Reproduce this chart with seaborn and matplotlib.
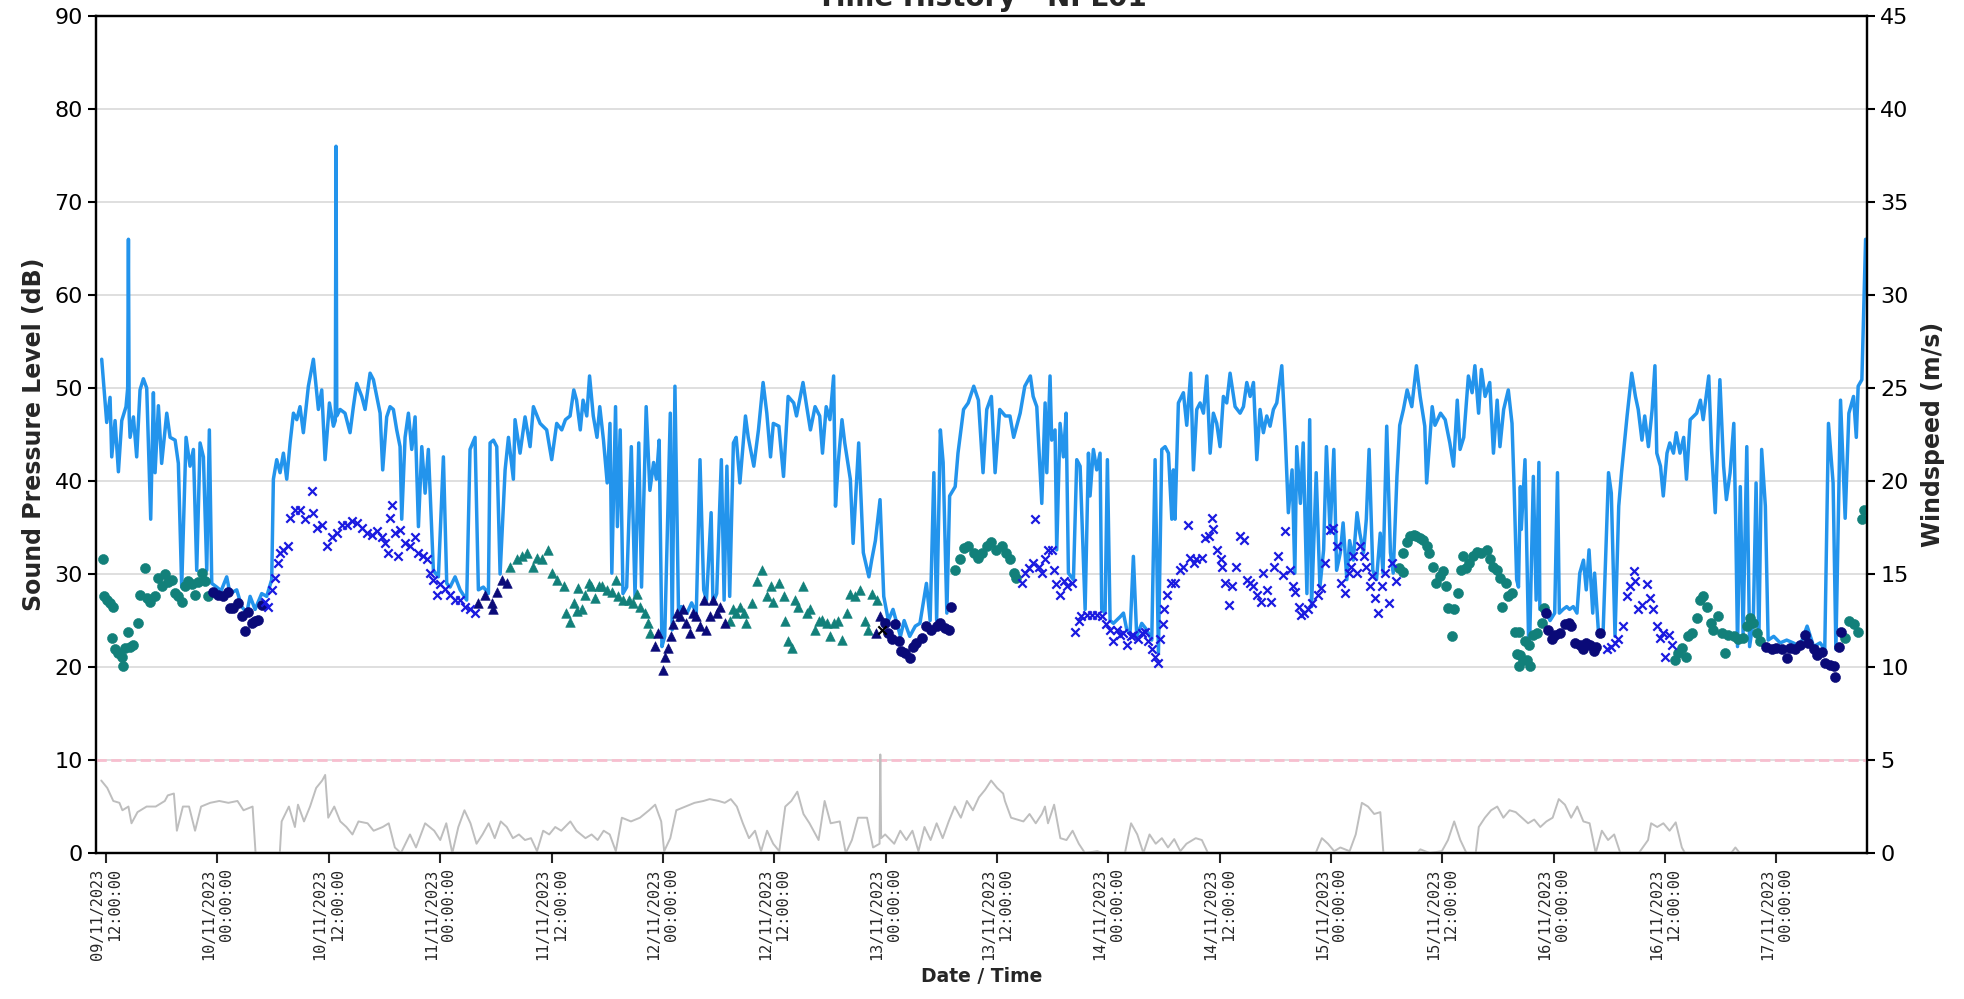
import matplotlib
matplotlib.use("Agg")
import matplotlib.pyplot as plt
import pandas as pd
import seaborn as sns

START = pd.Timestamp("2023-11-09 12:00:00")

# ---------------- data: (hours since 09/11/2023 12:00, value) ----------------
# Sound pressure level time history (dB) - light blue line
laeq_1 = [(-0.47, 53.1), (0.07, 46.3), (0.43, 49.0), (0.61, 42.6), (0.97, 46.5), (1.33, 41.0), (1.69, 46.5),
          (2.15, 48.0), (2.33, 50.0), (2.41, 66.0), (2.49, 47.0), (2.59, 44.7), (2.95, 46.9), (3.30, 42.6),
          (3.66, 49.8), (4.02, 51.0), (4.38, 50.0), (4.81, 35.9), (5.10, 49.5), (5.28, 40.9), (5.64, 48.1),
          (5.99, 41.9), (6.54, 47.3), (6.90, 44.7), (7.44, 44.4), (7.79, 41.9), (8.15, 28.6), (8.62, 44.7),
          (9.05, 41.6), (9.41, 43.4), (9.77, 30.4), (10.13, 44.1), (10.49, 42.6), (10.85, 30.4), (11.13, 45.5),
          (11.39, 29.0), (11.92, 28.6), (12.40, 28.2), (13.00, 29.7), (13.36, 27.9), (14.08, 28.3), (14.62, 26.5),
          (15.16, 25.8), (15.52, 27.6), (16.06, 26.2), (16.77, 27.9), (17.31, 27.6), (17.85, 29.4), (18.03, 40.2),
          (18.39, 42.3), (18.75, 40.9), (19.11, 43.0), (19.47, 40.2), (19.83, 44.1), (20.19, 47.3), (20.55, 46.6),
          (20.90, 48.0), (21.26, 45.2), (21.80, 50.2), (22.34, 53.1), (22.88, 47.7), (23.24, 49.8), (23.60, 42.3)]
laeq_2 = [(24.07, 48.4), (24.50, 45.9), (24.70, 46.5), (24.78, 76.0), (24.86, 47.0), (25.22, 47.7), (25.75, 47.3),
          (26.29, 45.2), (26.65, 48.0), (27.01, 50.5), (27.55, 49.1), (27.91, 47.7), (28.45, 51.6), (28.81, 50.9),
          (29.17, 49.1), (29.53, 47.3), (29.81, 41.2), (30.24, 46.9), (30.60, 48.0), (30.96, 47.7), (31.32, 45.5),
          (31.68, 43.7), (31.86, 35.9), (32.22, 44.7), (32.58, 47.3), (32.94, 43.4), (33.30, 46.9), (33.66, 35.1),
          (34.02, 43.7), (34.38, 38.7), (34.73, 43.4), (35.27, 30.4), (35.81, 29.7), (36.35, 42.6), (36.71, 29.0),
          (37.07, 28.6), (37.61, 29.7), (38.15, 28.3), (38.86, 27.2), (39.22, 43.4), (39.76, 44.7), (40.12, 28.3),
          (40.66, 28.6), (41.20, 27.9), (41.38, 44.1), (41.74, 44.4), (42.10, 43.7), (42.46, 30.0), (43.00, 41.2),
          (43.36, 44.7), (43.89, 40.2), (44.07, 46.6), (44.61, 43.0), (45.15, 46.9), (45.69, 43.7), (46.05, 48.0),
          (46.77, 46.2), (47.48, 45.5), (48.02, 42.3), (48.56, 46.2)]
laeq_3 = [(49.1, 45.5), (49.5, 46.6), (50.0, 47.0), (50.4, 49.8), (50.7, 48.7), (51.1, 45.5), (51.4, 48.7),
          (51.8, 47.0), (52.1, 51.3), (52.5, 47.0), (52.9, 44.7), (53.2, 48.0), (53.6, 44.4), (54.0, 39.8),
          (54.3, 46.2), (54.5, 30.1), (54.9, 48.0), (55.1, 35.1), (55.4, 45.5), (55.7, 27.9), (56.1, 28.6),
          (56.6, 43.7), (57.0, 27.6), (57.4, 44.1), (57.7, 28.6), (58.2, 48.0), (58.6, 39.0), (59.0, 42.0),
          (59.3, 40.2), (59.6, 44.4), (59.9, 22.2), (60.2, 23.3), (60.8, 47.3), (61.0, 24.0), (61.3, 50.2),
          (61.7, 25.0), (62.0, 26.5), (62.6, 25.8), (63.1, 26.9), (63.6, 25.8), (64.0, 42.3), (64.4, 28.3),
          (64.7, 27.2), (65.2, 36.6), (65.4, 26.9), (65.8, 27.9), (66.3, 42.3), (66.6, 27.2), (66.9, 41.6),
          (67.2, 27.6), (67.6, 44.1), (67.9, 44.7), (68.3, 39.8), (68.9, 47.0), (69.2, 44.7), (69.8, 41.6),
          (70.3, 45.5), (70.8, 50.6), (71.2, 47.3), (71.6, 42.6), (71.9, 46.2), (72.5, 45.9), (73.0, 40.5),
          (73.5, 49.1), (74.1, 48.4), (74.4, 47.0), (75.1, 50.6), (75.5, 48.0), (75.9, 45.5), (76.4, 48.0),
          (76.9, 47.0), (77.2, 43.0), (77.6, 48.0), (78.0, 46.6), (78.4, 51.3), (78.6, 37.3), (78.9, 42.0),
          (79.3, 46.6), (79.6, 44.1), (80.2, 40.2), (80.5, 33.3), (81.1, 44.1), (81.6, 32.3), (82.2, 29.7),
          (82.5, 31.5), (82.9, 33.6), (83.4, 38.0), (83.8, 27.6), (84.3, 25.0), (84.8, 26.2), (85.6, 23.3),
          (86.0, 25.0), (86.6, 23.3), (87.2, 24.4), (87.7, 24.7), (88.4, 29.0), (88.8, 25.0), (89.2, 40.9),
          (89.5, 25.0), (89.9, 45.5), (90.2, 42.0), (90.6, 25.8), (90.9, 38.4), (91.5, 39.4), (91.8, 43.0),
          (92.4, 47.7), (92.9, 48.4), (93.5, 50.2), (94.0, 48.7), (94.5, 40.9), (94.9, 47.7), (95.4, 49.1),
          (95.8, 40.9), (96.3, 47.7), (96.9, 47.0), (97.4, 47.0), (97.8, 44.7), (98.5, 47.3), (99.0, 50.2),
          (99.6, 51.3), (99.9, 49.1)]
laeq_4 = [(100.29, 48.0), (100.83, 37.6), (101.19, 48.4), (101.37, 40.9), (101.72, 51.3), (101.90, 44.4),
          (102.26, 45.5), (102.44, 32.6), (102.80, 46.2), (103.16, 42.6), (103.45, 47.3), (103.70, 30.1),
          (104.24, 29.4), (104.60, 42.3), (104.96, 41.6), (105.50, 26.2), (105.86, 43.0), (106.03, 38.4),
          (106.39, 43.4), (106.75, 41.2), (107.11, 43.0), (107.29, 26.2), (107.65, 25.8), (107.90, 42.3),
          (108.19, 25.0), (108.55, 24.7), (109.27, 25.4), (109.63, 25.8), (109.99, 24.0), (110.34, 23.6),
          (110.70, 31.9), (111.06, 23.3), (111.60, 24.7), (112.14, 24.0), (112.68, 22.9), (113.04, 42.3),
          (113.40, 21.5), (113.76, 43.4), (114.12, 43.7), (114.48, 43.0), (114.84, 35.9), (115.01, 41.2),
          (115.19, 35.9), (115.55, 48.4), (116.09, 49.5), (116.45, 46.0), (116.88, 51.6), (117.17, 41.2),
          (117.53, 47.7), (117.89, 48.4), (118.25, 47.3), (118.61, 51.3), (118.97, 43.0), (119.32, 47.3),
          (119.68, 46.2), (120.04, 43.7), (120.40, 49.1), (120.76, 48.4), (121.12, 51.6), (121.66, 48.0),
          (122.20, 47.3), (122.56, 48.0), (122.92, 50.6), (123.28, 49.1), (123.64, 50.6), (124.00, 42.3),
          (124.35, 47.7), (124.71, 45.2), (125.07, 47.0), (125.43, 45.9), (125.79, 47.7), (126.15, 48.4),
          (126.69, 52.4), (127.05, 45.2), (127.4, 36.6), (127.8, 41.2), (128.1, 30.1), (128.3, 43.7),
          (128.7, 37.6), (129.0, 44.1), (129.4, 27.9), (129.7, 46.6), (129.9, 26.5), (130.4, 40.9),
          (130.8, 28.6), (131.2, 32.6), (131.5, 43.7), (131.9, 34.4), (132.3, 43.4), (132.6, 30.4),
          (133.0, 32.3), (133.3, 35.5), (133.7, 29.4), (134.0, 33.6), (134.4, 31.5), (134.8, 36.6),
          (135.1, 34.4), (135.5, 32.3), (135.8, 35.9), (136.1, 43.4), (136.5, 30.4), (136.9, 29.4),
          (137.3, 34.4), (137.6, 30.1), (138.0, 45.9), (138.4, 32.3), (138.7, 30.1), (139.1, 40.5),
          (139.4, 46.0), (139.8, 47.7), (140.2, 49.8), (140.7, 48.0), (141.2, 52.4), (141.6, 49.1),
          (142.1, 45.9), (142.3, 39.8), (142.9, 48.0), (143.2, 46.0), (143.8, 47.3), (144.3, 46.6),
          (144.8, 44.1), (145.2, 41.6), (145.6, 48.7), (145.9, 43.4), (146.3, 44.7), (146.8, 51.3),
          (147.2, 49.5), (147.5, 52.4), (147.9, 47.3), (148.2, 52.0), (148.6, 49.1), (149.1, 50.6),
          (149.5, 43.0), (149.9, 48.7), (150.2, 43.7), (150.6, 47.7), (151.1, 49.8), (151.5, 46.2),
          (151.7, 40.2), (152.0, 29.4)]
laeq_5 = [(152.2, 28.6), (152.4, 39.4), (152.5, 34.8), (152.9, 42.3), (153.3, 22.2), (153.4, 22.6), (153.8, 40.5),
          (154.1, 27.2), (154.4, 42.0), (154.5, 26.2), (154.9, 26.5), (155.6, 25.0), (156.1, 25.8), (156.4, 40.9),
          (156.6, 25.8), (157.0, 26.2), (157.4, 26.5), (157.7, 26.2), (158.1, 26.5), (158.5, 25.8), (158.8, 30.1),
          (159.2, 31.5), (159.5, 28.3), (159.8, 32.6), (160.2, 25.8), (160.4, 30.1), (160.8, 24.0), (161.3, 23.3),
          (161.9, 40.9), (162.2, 38.7), (162.6, 23.3), (163.0, 37.3), (163.3, 40.9), (163.9, 47.0), (164.4, 51.6),
          (164.8, 49.1), (165.1, 47.7), (165.5, 44.4), (165.8, 47.0), (166.2, 43.7), (166.6, 47.7), (166.9, 52.4),
          (167.1, 43.0), (167.5, 41.6), (167.8, 38.4), (168.2, 43.0), (168.5, 44.1), (168.9, 43.0), (169.2, 45.2),
          (169.6, 43.0), (170.0, 44.7), (170.3, 40.2), (170.7, 46.6), (171.4, 47.3), (171.8, 48.7), (172.1, 46.6),
          (172.7, 51.3), (173.0, 43.4), (173.4, 36.6), (173.9, 50.9), (174.3, 41.6), (174.6, 38.0), (175.0, 40.9),
          (175.4, 46.2), (175.6, 35.9), (175.8, 22.2), (176.1, 39.4), (176.4, 23.6), (176.8, 43.7), (177.1, 22.2),
          (177.5, 25.0), (177.8, 39.8), (178.1, 22.9), (178.4, 43.4), (178.8, 37.3), (179.1, 22.9), (179.7, 23.3),
          (180.4, 22.6), (181.1, 22.9), (181.8, 22.6), (182.5, 22.2), (183.3, 24.4), (184.0, 22.2), (184.7, 22.6),
          (185.2, 21.9), (185.6, 46.2), (186.1, 39.8), (186.4, 21.9), (186.9, 48.7), (187.4, 36.0), (187.8, 47.3),
          (188.3, 49.1), (188.6, 44.7), (188.8, 50.2), (189.2, 50.9), (189.6, 66.0)]

# Windspeed (m/s) - grey line on right axis
wind_1 = [(-0.52, 3.9), (0.13, 3.5), (0.78, 2.8), (1.44, 2.7), (1.76, 2.3), (2.41, 2.5), (2.74, 1.6), (3.39, 2.2),
          (4.37, 2.5), (5.35, 2.5), (6.33, 2.8), (6.65, 3.1), (7.31, 3.2), (7.63, 1.2), (8.28, 2.5), (8.94, 2.5),
          (9.59, 1.2), (10.24, 2.5), (11.22, 2.7), (12.20, 2.8), (13.18, 2.7), (14.16, 2.8), (14.81, 2.3),
          (15.79, 2.5), (16.11, 0.0), (18.72, 0.0), (18.92, 1.7), (19.70, 2.5), (20.35, 1.4), (20.68, 2.6),
          (21.33, 1.7), (21.98, 2.5), (22.64, 3.5), (23.29, 3.9), (23.61, 4.2), (23.94, 1.9)]
wind_2 = [(24.59, 2.5), (25.24, 1.7), (25.90, 1.4), (26.55, 1.0), (27.20, 1.7), (28.18, 1.6), (28.83, 1.2),
          (29.81, 1.4), (30.46, 1.6), (31.12, 0.3), (31.77, 0.0), (32.75, 1.0), (33.40, 0.3), (34.38, 1.6),
          (35.36, 1.2), (36.01, 0.7), (36.66, 1.6), (37.31, 0.0), (37.96, 1.4), (38.62, 2.3), (39.27, 1.6),
          (39.92, 0.5), (40.57, 1.0), (41.23, 1.6), (41.88, 0.8), (42.53, 1.7), (43.18, 1.4), (43.84, 0.8),
          (44.49, 1.0), (45.14, 0.7), (45.79, 0.8), (46.44, 0.1), (47.10, 1.2), (47.75, 1.0)]
wind_3 = [(48.40, 1.4), (49.05, 1.2), (50.03, 1.7), (50.68, 1.2), (51.66, 0.8), (52.32, 1.0), (52.97, 0.7),
          (53.62, 1.2), (54.27, 1.0), (54.93, 0.1), (55.58, 1.9), (56.56, 1.7), (57.53, 1.9), (58.51, 2.3),
          (59.17, 2.6), (59.82, 1.7), (60.14, 0.1), (60.80, 0.8), (61.45, 2.3), (62.43, 2.5), (63.41, 2.7),
          (64.38, 2.8), (65.04, 2.9), (66.01, 2.8), (66.67, 2.7), (67.32, 2.9), (67.97, 2.5), (68.62, 1.6),
          (69.28, 0.8), (69.93, 1.2), (70.58, 0.1), (71.23, 1.2), (71.89, 0.5), (72.54, 0.1), (73.19, 2.5),
          (73.84, 2.8), (74.49, 3.3), (75.15, 2.1), (75.80, 1.6), (76.78, 0.7), (77.43, 2.8), (78.08, 1.6),
          (79.06, 1.7), (79.71, 0.0), (80.37, 0.7), (81.02, 1.9), (82.00, 1.9), (82.65, 0.3), (83.35, 0.5),
          (83.43, 5.3), (83.52, 0.8), (83.95, 1.0), (84.93, 0.5), (85.58, 1.2), (86.24, 0.7), (86.89, 1.2),
          (87.54, 0.1), (88.19, 1.4), (88.85, 0.7), (89.50, 1.6), (90.15, 0.8), (90.80, 1.7), (91.45, 2.5),
          (92.11, 1.9), (92.76, 2.8), (93.41, 2.3), (94.06, 3.0), (94.72, 3.4), (95.37, 3.9), (96.02, 3.5)]
wind_4 = [(96.67, 3.2), (96.86, 2.8), (97.52, 1.9), (98.19, 1.8), (98.85, 1.7), (99.51, 2.1), (100.18, 1.6),
          (100.84, 2.1), (101.17, 2.5), (101.50, 1.6), (102.16, 2.6), (102.83, 0.8), (103.49, 0.7), (104.15, 1.2),
          (104.82, 0.5), (105.48, 0.0), (106.81, 0.1), (107.47, 0.0), (109.79, 0.0), (110.45, 1.6), (111.12, 1.0),
          (111.78, 0.0), (112.44, 1.0), (113.11, 0.5), (113.77, 0.8), (114.43, 0.3), (115.10, 0.75), (115.76, 0.1),
          (116.42, 0.5), (117.42, 0.8), (118.08, 0.7), (118.74, 0.0), (130.35, 0.0), (131.01, 0.8), (131.67, 0.5),
          (132.34, 0.1), (133.00, 0.3), (134.00, 0.1), (134.66, 1.0), (135.32, 2.7), (135.98, 2.5), (136.65, 2.1),
          (137.31, 2.2), (137.64, 0.0), (141.29, 0.0), (141.62, 0.2), (142.62, 0.0), (143.94, 0.1), (144.60, 0.7),
          (145.27, 1.7), (145.93, 0.7), (146.59, 0.0), (147.59, 0.0), (147.92, 1.4), (148.58, 1.9), (149.25, 2.3),
          (149.91, 2.5), (150.57, 1.9), (151.24, 2.3), (151.90, 2.2), (152.56, 1.9), (153.23, 1.6), (153.89, 1.8),
          (154.55, 1.4), (155.21, 1.7), (155.88, 1.9), (156.54, 2.9), (157.20, 2.6), (157.87, 1.9), (158.53, 2.5),
          (159.19, 1.7), (159.86, 1.6), (160.52, 0.0), (161.18, 1.2), (161.85, 0.7), (162.51, 1.0), (163.17, 0.0),
          (165.16, 0.0), (166.16, 0.7), (166.49, 1.6), (167.15, 1.4), (167.81, 1.6), (168.48, 1.2), (169.14, 1.65),
          (169.80, 0.3), (170.14, 0.0), (175.11, 0.0), (175.57, 0.3), (176.04, 0.0), (189.70, 0.0)]

# Background level points by category
teal_circle_1 = [(-0.36, 31.6), (-0.18, 27.6), (0.07, 27.2), (0.43, 26.9), (0.61, 23.1), (0.79, 26.5), (0.97, 21.9),
                 (1.33, 21.5), (1.69, 21.1), (1.87, 20.1), (2.05, 22.0), (2.41, 23.8), (2.59, 22.2), (2.95, 22.4),
                 (3.48, 24.7), (3.66, 27.8), (4.20, 30.6), (4.38, 27.4), (4.74, 27.0), (5.28, 27.6), (5.64, 29.6),
                 (6.00, 28.7), (6.36, 30.0), (6.72, 29.1), (7.08, 29.4), (7.44, 28.0), (7.79, 27.6), (8.15, 27.0),
                 (8.51, 28.7), (8.87, 29.2), (9.23, 28.9), (9.59, 27.8), (9.95, 29.1), (10.31, 30.1), (10.67, 29.2),
                 (11.03, 27.6)]
teal_circle_2 = [(91.5, 30.4), (92.0, 31.6), (92.4, 32.8), (92.9, 33.0), (93.5, 32.3), (94.0, 31.7), (94.4, 32.3),
                 (94.9, 33.0), (95.4, 33.4), (95.9, 32.6), (96.5, 33.0), (97.0, 32.3), (97.4, 31.6), (97.8, 30.1),
                 (98.1, 29.6)]
teal_circle_3 = [(139.3, 30.6), (139.7, 30.2), (139.8, 32.3), (140.2, 33.5), (140.5, 34.1), (140.9, 34.2),
                 (141.2, 34.1), (141.6, 33.9), (141.9, 33.7), (142.3, 33.0), (142.6, 32.3), (143.0, 30.8),
                 (143.3, 29.0), (143.7, 29.8), (144.1, 30.3), (144.4, 28.7), (144.6, 26.4), (145.0, 23.3),
                 (145.3, 26.2), (145.7, 28.0), (146.0, 30.4), (146.2, 31.9), (146.5, 30.6), (146.9, 31.2),
                 (147.3, 31.9), (147.7, 32.4), (148.2, 32.3), (148.8, 32.6), (149.1, 31.6), (149.5, 30.8),
                 (149.9, 30.4), (150.2, 29.6), (150.4, 26.5), (150.8, 29.0), (151.1, 27.6), (151.5, 28.0),
                 (151.8, 23.8), (152.0, 21.4), (152.2, 20.1), (152.3, 23.8), (152.4, 21.3), (152.7, 20.8),
                 (152.9, 22.8), (153.1, 20.8), (153.3, 22.4), (153.4, 20.1), (153.8, 23.5), (154.2, 23.7),
                 (154.7, 24.7), (154.9, 26.3)]
teal_circle_4 = [(169.1, 20.8), (169.4, 21.5), (169.8, 22.0), (170.2, 21.1), (170.5, 23.3), (170.9, 23.7),
                 (171.4, 25.3), (171.8, 27.2), (172.1, 27.6), (172.5, 26.5), (172.9, 24.7), (173.2, 24.0),
                 (173.7, 25.5), (174.1, 23.7), (174.5, 21.5), (174.8, 23.5), (175.4, 23.3), (175.9, 23.0),
                 (176.4, 23.1), (176.8, 24.4), (177.1, 25.3), (177.5, 24.7), (177.9, 23.7), (178.2, 22.8)]
teal_circle_5 = [(187.4, 23.1), (187.8, 24.9), (188.3, 24.6), (188.8, 23.8), (189.2, 35.9), (189.4, 36.9)]

navy_circle_1 = [(11.57, 28.1), (12.10, 27.8), (12.64, 27.6), (13.18, 28.1), (13.36, 26.4), (13.72, 26.4),
                 (14.26, 26.9), (14.62, 25.5), (14.98, 23.9), (15.34, 25.9), (15.70, 24.7), (16.06, 24.9),
                 (16.41, 25.1), (16.77, 26.7)]
navy_circle_2 = [(83.9, 24.7), (84.3, 23.7), (84.7, 23.0), (85.0, 24.6), (85.4, 22.8), (85.7, 21.7), (86.1, 21.5),
                 (86.6, 21.0), (87.0, 22.2), (87.3, 22.6), (87.9, 23.1), (88.4, 24.4), (88.9, 24.0), (89.5, 24.4),
                 (89.9, 24.7), (90.4, 24.2), (90.8, 24.0), (91.1, 26.5)]
navy_circle_3 = [(155.2, 25.8), (155.4, 24.0), (155.8, 23.0), (156.1, 23.5), (156.7, 23.7), (157.2, 24.6),
                 (157.6, 24.7), (157.9, 24.4), (158.3, 22.6), (158.8, 22.4), (159.2, 21.9), (159.5, 22.6),
                 (159.9, 22.4), (160.3, 21.7), (160.6, 22.2), (161.0, 23.7)]
navy_circle_4 = [(178.9, 22.2), (179.5, 21.9), (180.0, 22.0), (180.6, 21.9), (181.1, 21.0), (181.5, 22.0),
                 (182.0, 21.9), (182.5, 22.4), (183.1, 23.5), (183.4, 22.6), (184.0, 21.9), (184.4, 21.3),
                 (184.9, 21.6), (185.2, 20.4), (185.8, 20.2), (186.2, 20.1), (186.3, 18.9), (186.7, 22.2),
                 (187.0, 23.8)]

blue_x_1 = [(17.13, 27.0), (17.49, 26.5), (17.85, 28.3), (18.21, 29.6), (18.57, 31.2), (18.75, 32.3), (19.11, 32.6),
            (19.65, 33.0), (19.83, 36.0), (20.37, 36.9), (20.90, 36.9), (21.44, 35.9), (22.16, 38.9), (22.34, 36.6),
            (22.70, 35.0), (23.24, 35.3), (23.78, 33.0), (24.32, 34.0), (24.86, 34.4), (25.40, 35.3), (25.93, 35.3),
            (26.47, 35.7), (27.01, 35.5), (27.55, 35.0), (28.09, 34.4), (28.63, 34.2), (29.17, 34.6), (29.71, 34.0),
            (30.06, 33.3), (30.42, 32.3), (30.60, 36.0), (30.78, 37.4), (31.14, 34.4), (31.50, 31.9), (31.68, 34.7),
            (32.22, 33.3), (32.76, 33.0), (33.30, 34.0), (33.66, 32.3), (34.19, 31.9), (34.55, 31.6), (34.91, 30.1),
            (35.27, 29.4), (35.63, 27.8), (35.99, 28.9), (36.53, 28.4), (37.07, 27.8), (37.61, 27.2), (38.15, 27.2),
            (38.69, 26.5), (39.22, 26.2), (39.76, 25.8)]
blue_x_2 = [(98.7, 29.0), (99.0, 30.1), (99.4, 30.6), (99.9, 31.2), (100.1, 35.9), (100.5, 30.8), (100.8, 30.1),
            (101.2, 31.6), (101.5, 32.6), (101.9, 32.6), (102.1, 30.4), (102.4, 28.9), (102.8, 27.8), (103.2, 29.2),
            (103.5, 28.7), (104.1, 29.0), (104.4, 23.8), (104.8, 24.9), (105.1, 25.5), (105.7, 25.6), (106.2, 25.6),
            (106.8, 25.6), (107.3, 25.5), (107.8, 24.6), (108.2, 24.0), (108.5, 22.8), (108.9, 24.0), (109.3, 23.5),
            (109.6, 23.7), (110.0, 22.4), (110.4, 23.3), (110.7, 23.5), (111.2, 23.0), (111.6, 23.7), (111.9, 23.8),
            (112.3, 22.8), (112.7, 21.9), (113.0, 21.1), (113.4, 20.4), (113.6, 23.0), (113.9, 24.6), (114.0, 26.2),
            (114.3, 27.8), (114.8, 29.0), (115.2, 29.0), (115.7, 30.4), (116.1, 30.8), (116.6, 35.3), (116.8, 31.7),
            (117.2, 31.2), (117.5, 31.6), (118.1, 31.7), (118.4, 33.9), (118.8, 34.1), (119.2, 36.0), (119.3, 34.8),
            (119.7, 32.6), (120.1, 31.6), (120.2, 30.8), (120.6, 29.0), (121.0, 26.7), (121.3, 28.7), (121.8, 30.8),
            (122.2, 34.1), (122.6, 33.7), (122.9, 29.4), (123.3, 29.0), (123.6, 28.7), (124.0, 27.8), (124.4, 27.0),
            (124.7, 30.1), (125.1, 28.3), (125.5, 27.0), (125.9, 30.8), (126.3, 31.9), (126.8, 29.9), (127.0, 34.6),
            (127.6, 30.4), (127.9, 28.7), (128.1, 28.1), (128.5, 26.5), (128.8, 25.6), (129.1, 25.8), (129.5, 26.2),
            (130.0, 26.9), (130.6, 27.8), (130.9, 28.5), (131.3, 31.2), (131.9, 34.7), (132.2, 34.9), (132.6, 33.0),
            (133.1, 29.0), (133.5, 28.0), (133.9, 30.1), (134.2, 30.8), (134.4, 31.9), (134.8, 30.1), (135.1, 33.0),
            (135.5, 31.9), (135.8, 30.8), (136.2, 28.7), (136.4, 29.8), (136.7, 27.4), (137.1, 25.8), (137.5, 28.7),
            (137.8, 30.1), (138.2, 26.9), (138.6, 31.2), (139.0, 29.2)]
blue_x_3 = [(161.7, 21.9), (162.2, 22.2), (162.6, 22.6), (162.9, 23.0), (163.5, 24.4), (163.9, 27.6), (164.2, 28.7),
            (164.6, 30.3), (164.8, 29.2), (165.1, 26.2), (165.5, 26.7), (166.0, 28.9), (166.4, 27.4), (166.7, 26.2),
            (167.1, 24.4), (167.5, 23.1), (167.8, 23.7), (168.0, 21.1), (168.4, 23.5), (168.7, 22.4)]

navy_tri_1 = [(40.12, 26.9), (40.84, 27.8), (41.56, 26.9), (41.74, 26.2), (42.10, 28.1), (42.64, 29.4), (43.17, 29.0)]
navy_tri_2 = [(59.2, 22.3), (59.5, 23.7), (60.0, 19.7), (60.2, 21.1), (60.6, 22.0), (60.9, 23.3), (61.1, 24.6),
              (61.5, 25.8), (61.8, 25.5), (62.2, 26.2), (62.5, 24.7), (62.9, 23.7), (63.3, 25.8), (63.6, 25.5),
              (64.0, 24.4), (64.4, 27.2), (64.7, 24.0), (65.1, 25.5), (65.4, 27.2), (65.8, 25.8), (66.2, 26.5),
              (66.7, 24.7)]
navy_tri_3 = [(83.0, 23.7), (83.4, 25.5)]

teal_tri_1 = [(43.53, 30.8), (44.25, 31.6), (44.79, 31.9), (45.33, 32.3), (46.05, 30.8), (46.41, 31.7), (46.95, 31.6),
              (47.66, 32.6), (48.02, 30.1), (48.56, 29.4), (49.3, 28.7), (49.6, 25.8), (50.0, 24.8), (50.4, 26.9),
              (50.7, 26.0), (50.9, 28.5), (51.3, 26.2), (51.6, 27.8), (52.0, 29.0), (52.3, 28.7), (52.7, 27.4),
              (53.1, 28.7), (53.4, 28.7), (54.0, 28.3), (54.5, 28.1), (54.9, 29.4), (55.2, 27.6), (55.7, 27.2),
              (56.3, 27.2), (56.8, 26.9), (57.2, 27.9), (57.5, 26.5), (58.1, 25.8), (58.4, 24.7), (58.6, 23.7)]
teal_tri_2 = [(67.2, 25.0), (67.6, 26.2), (67.9, 25.8), (68.3, 26.5), (68.7, 25.8), (69.0, 24.7), (69.6, 26.9),
              (70.1, 29.2), (70.7, 30.4), (71.2, 27.6), (71.6, 28.7), (71.9, 27.0), (72.5, 29.0), (73.0, 27.6),
              (73.2, 25.0), (73.5, 22.8), (73.9, 22.0), (74.2, 27.2), (74.6, 26.5), (75.1, 28.7), (75.5, 25.8),
              (75.9, 26.2), (76.4, 24.0), (76.8, 24.9), (77.1, 25.1), (77.7, 24.7), (78.0, 23.3), (78.4, 24.7),
              (78.9, 24.9), (79.3, 22.9), (79.8, 25.8), (80.2, 27.9), (80.7, 27.6), (81.2, 28.3), (81.8, 25.0),
              (82.1, 24.0), (82.5, 27.9), (83.1, 27.2)]

black_x = [(83.6, 24.0)]

TITLE = "Time History - NPL01"
Y_LEFT_LABEL = "Sound Pressure Level (dB)"
Y_RIGHT_LABEL = "Windspeed (m/s)"
X_LABEL = "Date / Time"
WIND_LIMIT = 5
X_TICKS = pd.date_range("2023-11-09 12:00:00", "2023-11-17 00:00:00", freq="12h")


def frame(*segments):
    pts = [p for seg in segments for p in seg]
    hrs = [p[0] for p in pts]
    vals = [p[1] for p in pts]
    return pd.DataFrame({"time": START + pd.to_timedelta(hrs, unit="h"), "value": vals})


# ---------------- styling ----------------
sns.set_style("ticks")
plt.rcParams["font.family"] = ["DejaVu Sans"]

LINE_BLUE = "#2394EC"
GREY = "#BEBEBE"
TEAL = "#12807A"
NAVY = "#0A0A78"
BLUE_X = "#1A1AE0"

fig = plt.figure(figsize=(19.64, 9.99), dpi=100)
ax = fig.add_axes([0.0489, 0.1461, 0.9017, 0.8378])
ax2 = ax.twinx()

# main level line
sns.lineplot(data=frame(laeq_1, laeq_2, laeq_3, laeq_4, laeq_5), x="time", y="value", ax=ax,
             color=LINE_BLUE, linewidth=2.5, estimator=None, sort=False, zorder=2)

# background markers
mk = dict(x="time", y="value", ax=ax, zorder=3, legend=False)
sns.scatterplot(data=frame(teal_circle_1, teal_circle_2, teal_circle_3, teal_circle_4, teal_circle_5),
                marker="o", s=52, color=TEAL, edgecolor=TEAL, linewidth=0.4, **mk)
sns.scatterplot(data=frame(navy_circle_1, navy_circle_2, navy_circle_3, navy_circle_4),
                marker="o", s=52, color=NAVY, edgecolor=NAVY, linewidth=0.4, **mk)
sns.scatterplot(data=frame(teal_tri_1, teal_tri_2),
                marker="^", s=48, color=TEAL, edgecolor=TEAL, linewidth=0.4, **mk)
sns.scatterplot(data=frame(navy_tri_1, navy_tri_2, navy_tri_3),
                marker="^", s=48, color=NAVY, edgecolor=NAVY, linewidth=0.4, **mk)
sns.scatterplot(data=frame(blue_x_1, blue_x_2, blue_x_3),
                marker="x", s=36, color=BLUE_X, linewidth=1.6, **mk)
sns.scatterplot(data=frame(black_x), marker="x", s=36, color="black", linewidth=1.6, **mk)

# windspeed on right axis
sns.lineplot(data=frame(wind_1, wind_2, wind_3, wind_4), x="time", y="value", ax=ax2,
             color=GREY, linewidth=1.4, estimator=None, sort=False, zorder=2)
ax2.axhline(WIND_LIMIT, color="#F7BFCF", linestyle="--", linewidth=2.0, zorder=1)

# axes
ax.set_ylim(0, 90)
ax2.set_ylim(0, 45)
ax.set_yticks(range(0, 91, 10))
ax2.set_yticks(range(0, 46, 5))
xmin = START - pd.Timedelta(hours=1.08)
xmax = START + pd.Timedelta(hours=189.75)
ax.set_xlim(xmin, xmax)

ax.set_xticks(X_TICKS)
ax.set_xticklabels([t.strftime("%d/%m/%Y\n%H:%M:%S") for t in X_TICKS], rotation=90,
                   fontfamily="DejaVu Sans Mono", fontsize=11, ha="center", va="top",
                   multialignment="right")

ax.grid(axis="y", color="#DCDCDC", linewidth=1.3)
ax.grid(axis="x", visible=False)
ax2.grid(False)
ax.set_axisbelow(True)

for a in (ax, ax2):
    for sp in a.spines.values():
        sp.set_color("black")
        sp.set_linewidth(1.6)
    a.tick_params(axis="y", labelsize=16, length=6, width=1.5, colors="black")
ax.tick_params(axis="x", length=7, width=1.5, pad=4)

ax.set_xlabel(X_LABEL, fontsize=13.5, fontweight="bold", labelpad=5)
ax.set_ylabel(Y_LEFT_LABEL, fontsize=17, fontweight="bold", labelpad=6)
ax2.set_ylabel(Y_RIGHT_LABEL, fontsize=17, fontweight="bold", labelpad=9)
ax.set_title(TITLE, fontsize=20, fontweight="bold", pad=7)

fig.savefig("out.png", dpi=100)
